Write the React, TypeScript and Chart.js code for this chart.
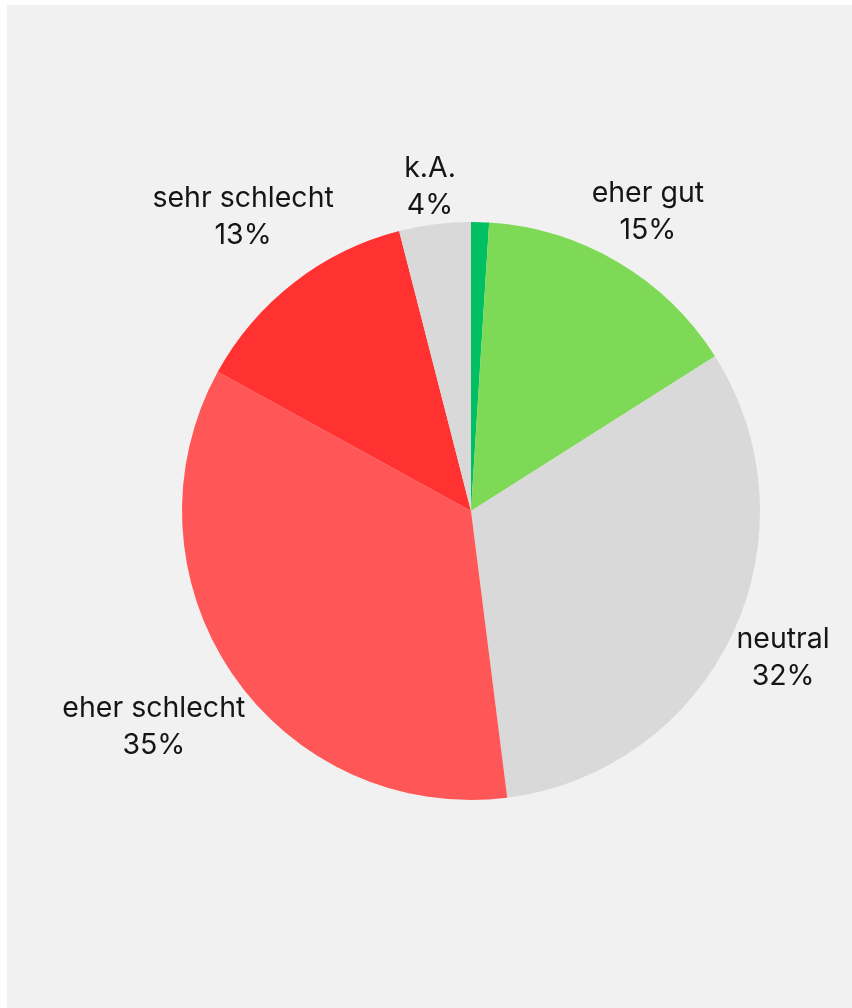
import React, { useEffect, useRef } from "react";
import { Chart, registerables } from "chart.js";

Chart.register(...registerables);

const categories = ["sehr gut", "eher gut", "neutral", "eher schlecht", "sehr schlecht", "k.A."];
const values = [1, 15, 32, 35, 13, 4];
const showLabel = [false, true, true, true, true, true];
const colors = ["#00bf63", "#7ed957", "#d9d9d9", "#ff5757", "#ff3131", "#d9d9d9"];

const FONT = "400 28.5px Inter, 'Noto Sans', sans-serif";
const LINE_H = 37;

const labelPlugin = {
  id: "outerLabels",
  afterDraw(chart: any) {
    const ctx = chart.ctx;
    const meta = chart.getDatasetMeta(0);
    ctx.save();
    ctx.font = FONT;
    ctx.fillStyle = "#151515";
    ctx.textAlign = "center";
    ctx.textBaseline = "middle";
    meta.data.forEach((arc: any, i: number) => {
      if (!showLabel[i]) return;
      const { x, y, startAngle, endAngle, outerRadius } = arc.getProps(
        ["x", "y", "startAngle", "endAngle", "outerRadius"],
        true
      );
      const mid = (startAngle + endAngle) / 2;
      const ux = Math.cos(mid);
      const uy = Math.sin(mid);
      const l1 = categories[i];
      const l2 = values[i] + "%";
      const w = Math.max(ctx.measureText(l1).width, ctx.measureText(l2).width);
      const hw = w / 2;
      const hh = LINE_H;
      const support = Math.abs(ux) * hw + Math.abs(uy) * hh;
      const d = outerRadius + support - 2;
      const cx = x + ux * d;
      const cy = y + uy * d;
      ctx.fillText(l1, cx, cy - LINE_H / 2);
      ctx.fillText(l2, cx, cy + LINE_H / 2);
    });
    ctx.restore();
  },
};

export default function App() {
  const ref = useRef<HTMLCanvasElement | null>(null);
  useEffect(() => {
    if (!ref.current) return;
    const chart = new Chart(ref.current, {
      type: "pie",
      data: {
        labels: categories,
        datasets: [
          {
            data: values,
            backgroundColor: colors,
            borderWidth: 0,
          },
        ],
      },
      options: {
        responsive: false,
        animation: false,
        layout: { padding: { left: 182, right: 92, top: 222, bottom: 208 } },
        plugins: {
          legend: { display: false },
          tooltip: { enabled: false },
        },
      },
      plugins: [labelPlugin],
    });
    return () => chart.destroy();
  }, []);

  return (
    <div style={{ position: "fixed", inset: 0, background: "#ffffff" }}>
      <div
        style={{
          position: "absolute",
          left: 7,
          top: 5,
          right: 0,
          bottom: 0,
          background: "#f1f1f1",
        }}
      />
      <canvas
        ref={ref}
        width={852}
        height={1008}
        style={{ position: "absolute", left: 0, top: 0, width: 852, height: 1008 }}
      />
    </div>
  );
}
